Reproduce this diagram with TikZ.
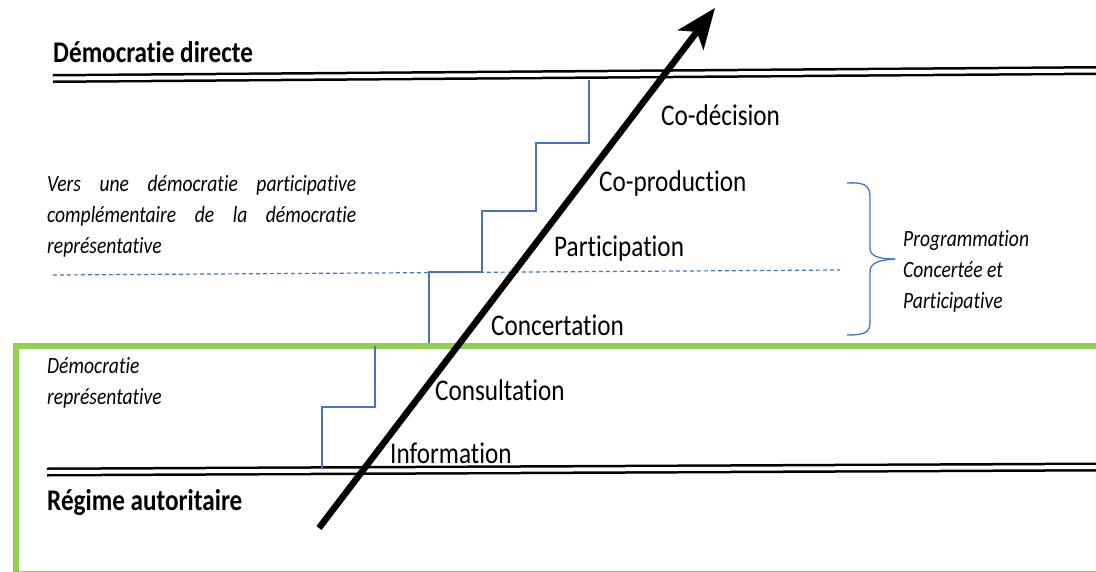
\documentclass[tikz,border=0pt]{standalone}
\usepackage{fontspec}
\setmainfont{Carlito}[FakeStretch=0.84, RawFeature=-liga]
\usetikzlibrary{arrows.meta}
\definecolor{stepblue}{HTML}{4472C4}
\definecolor{framegreen}{HTML}{92D050}

\begin{document}
\begin{tikzpicture}[x=1pt, y=-1pt]
    \useasboundingbox (0,0) rectangle (1096,571);

    % green frame round the representative part
    \draw[framegreen, line width=6pt] (16,346) rectangle (1120,574);

    % limits: direct democracy and authoritarian regime
    \draw[line width=2.5pt, double, double distance=4pt] (53,78.5) -- (1096,70.5);
    \draw[line width=2.5pt, double, double distance=4pt] (47,472) -- (1096,467);

    % dashed threshold
    \draw[stepblue, line width=1.2pt, dash pattern=on 4pt off 3pt] (53,275) -- (840,270);

    % staircase
    \draw[stepblue, line width=1.3pt] (322,468) -- (322,407) -- (375,407) -- (375,346);
    \draw[stepblue, line width=1.3pt] (429,343) -- (429,272) -- (482,272) -- (482,211)
        -- (536,211) -- (536,143) -- (589,143) -- (589,80);

    % brace
    \draw[stepblue, line width=1.3pt] (847,183) .. controls (866,182) and (870,186) .. (870,198)
        -- (870,248) .. controls (870,256) and (878,259) .. (895,259);
    \draw[stepblue, line width=1.3pt] (895,259) .. controls (878,260) and (870,263) .. (870,272)
        -- (870,322) .. controls (870,332) and (866,335) .. (847,335);

    {
        \tikzset{every node/.style = {anchor=west, inner sep=0pt}}
        \tikzset{level/.style = {font=\fontsize{30}{30}\selectfont}}
        \tikzset{limit/.style = {font=\fontsize{30}{30}\selectfont\bfseries}}
        \tikzset{note/.style = {align=left, font=\fontsize{23.3}{31}\selectfont\itshape}}

        \node[limit] (direct) at (53,52) {Démocratie directe};
        \node[limit] (autoritaire) at (47,503) {Régime autoritaire};

        \node[level] (codecision) at (661,115) {Co-décision};
        \node[level] (coproduction) at (599,183) {Co-production};
        \node[level] (participation) at (554,249) {Participation};
        \node[level] (concertation) at (491,325) {Concertation};
        \node[level] (consultation) at (435,390) {Consultation};
        \node[level] (information) at (390,453) {Information};

        \node[note] (vers) at (47,216) {\makebox[309pt][s]{Vers une démocratie participative}\\
            \makebox[309pt][s]{complémentaire de la démocratie}\\ représentative};
        \node[note] (representative) at (47,383) {Démocratie\\ représentative};
        \node[note] (programmation) at (903,271) {Programmation\\ Concertée et\\ Participative};
    }

    % progression arrow
    \coordinate (tail) at (319,528);
    \coordinate (head) at (715,8);
    \draw[line width=6.5pt, -{Stealth[length=40pt, width=32pt, inset=10pt]}] (tail) -- (head);

\end{tikzpicture}
\end{document}
